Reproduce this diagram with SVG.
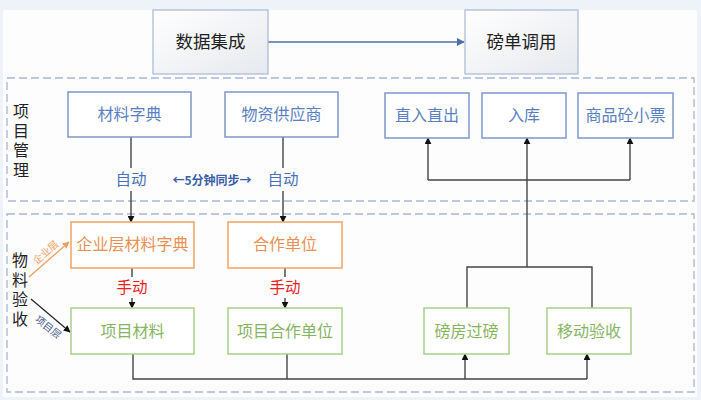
<svg xmlns="http://www.w3.org/2000/svg" width="701" height="400" viewBox="0 0 701 400">
<defs>
<linearGradient id="gtop" x1="0" y1="0" x2="1" y2="1">
<stop offset="0" stop-color="#ffffff"/>
<stop offset="1" stop-color="#e6e9ee"/>
</linearGradient>
<marker id="ah" viewBox="0 0 10 10" refX="9" refY="5" markerWidth="7" markerHeight="7" markerUnits="userSpaceOnUse" orient="auto">
<path d="M0,0 L10,5 L0,10 z" fill="#111"/>
</marker>
<marker id="ahb" viewBox="0 0 10 10" refX="9" refY="5" markerWidth="8" markerHeight="8" markerUnits="userSpaceOnUse" orient="auto">
<path d="M0,0 L10,5 L0,10 z" fill="#4a72a8"/>
</marker>
<marker id="aho" viewBox="0 0 10 10" refX="9" refY="5" markerWidth="7" markerHeight="7" markerUnits="userSpaceOnUse" orient="auto">
<path d="M0,0 L10,5 L0,10 z" fill="#f0a060"/>
</marker>
</defs>
<style>
text{font-family:"Noto Sans CJK SC","Noto Sans",sans-serif;}
.top rect{fill:url(#gtop);stroke:#a9b8d6;stroke-width:1.2;}
.top text{font-size:17.5px;fill:#222;text-anchor:middle;}
.blue rect{fill:#fff;stroke:#7d98cc;stroke-width:1.5;}
.blue text{font-size:16px;fill:#5a7fc0;text-anchor:middle;}
.orange rect{fill:#fff;stroke:#f0a46a;stroke-width:1.5;}
.orange text{font-size:16px;fill:#ea9050;text-anchor:middle;}
.green rect{fill:#fff;stroke:#a8d08a;stroke-width:1.5;}
.green text{font-size:16px;fill:#86b562;text-anchor:middle;}
.dash{fill:none;stroke:#a9b6d8;stroke-width:1.3;stroke-dasharray:8 4;}
.ln{fill:none;stroke:#444;stroke-width:1.4;}
.vlbl{font-size:16px;fill:#222;writing-mode:tb;letter-spacing:3.5px;}
.auto{font-size:15.5px;fill:#4a72b8;text-anchor:middle;}
.man{font-size:15.5px;fill:#ee1c1c;text-anchor:middle;}
</style>
<rect x="0" y="0" width="701" height="400" fill="#eef3fa"/>
<rect x="3" y="10" width="694" height="387" fill="#fdfdfe"/>

<rect class="dash" x="7" y="78" width="687" height="123"/>
<rect class="dash" x="7" y="214" width="687" height="178"/>

<g id="label-xmgl">
<text class="vlbl" x="21" y="103">项目管理</text>
</g>
<g id="label-llys">
<text class="vlbl" x="20" y="252">物料验收</text>
</g>

<g id="connectors">
<line x1="268" y1="42" x2="464" y2="42" stroke="#4a72a8" stroke-width="1.3" marker-end="url(#ahb)"/>
<line class="ln" x1="131" y1="137" x2="131" y2="168"/>
<line class="ln" x1="131" y1="191" x2="131" y2="222" marker-end="url(#ah)"/>
<line class="ln" x1="283" y1="137" x2="283" y2="168"/>
<line class="ln" x1="283" y1="191" x2="283" y2="222" marker-end="url(#ah)"/>
<line class="ln" x1="132" y1="268" x2="132" y2="277"/>
<line class="ln" x1="132" y1="298" x2="132" y2="308" marker-end="url(#ah)"/>
<line class="ln" x1="285" y1="268" x2="285" y2="277"/>
<line class="ln" x1="285" y1="298" x2="285" y2="308" marker-end="url(#ah)"/>
<polyline class="ln" points="133,354 133,379 587,379"/>
<line class="ln" x1="287" y1="354" x2="287" y2="379"/>
<line class="ln" x1="465" y1="379" x2="465" y2="354" marker-end="url(#ah)"/>
<line class="ln" x1="587" y1="379" x2="587" y2="354" marker-end="url(#ah)"/>
<polyline class="ln" points="467,308 467,267 592,267 592,308"/>
<line class="ln" x1="527" y1="267" x2="527" y2="138" marker-end="url(#ah)"/>
<polyline class="ln" points="428,180 630,180"/>
<line class="ln" x1="428" y1="180" x2="428" y2="138" marker-end="url(#ah)"/>
<line class="ln" x1="630" y1="180" x2="630" y2="138" marker-end="url(#ah)"/>
<line x1="29" y1="277" x2="69" y2="242" stroke="#f0a060" stroke-width="1.3" marker-end="url(#aho)"/>
<line x1="31" y1="299" x2="70" y2="332" stroke="#222" stroke-width="1.2" marker-end="url(#ah)"/>
<text x="48" y="255" font-size="10" fill="#f0a060" text-anchor="middle" transform="rotate(-42 48 255)">企业层</text>
<text x="46" y="330" font-size="10" fill="#4a5a8a" text-anchor="middle" transform="rotate(38 46 330)">项目层</text>
<text class="auto" x="131" y="185">自动</text>
<text class="auto" x="283" y="185">自动</text>
<text x="212" y="185" font-size="12" font-weight="bold" fill="#3a5ea8" text-anchor="middle">←5分钟同步→</text>
<text class="man" x="132" y="293">手动</text>
<text class="man" x="285" y="293">手动</text>
</g>

<g id="n-sjjc" class="top"><rect x="153" y="10" width="115" height="64"/><text x="210.5" y="48">数据集成</text></g>
<g id="n-bddy" class="top"><rect x="465" y="10" width="113" height="64"/><text x="521.5" y="48">磅单调用</text></g>

<g id="n-clzd" class="blue"><rect x="68" y="92" width="123" height="45"/><text x="129.5" y="120">材料字典</text></g>
<g id="n-wzgys" class="blue"><rect x="225" y="92" width="113" height="45"/><text x="281.5" y="120">物资供应商</text></g>
<g id="n-zrzc" class="blue"><rect x="385" y="93" width="84" height="45"/><text x="427" y="121">直入直出</text></g>
<g id="n-rk" class="blue"><rect x="482" y="93" width="84" height="45"/><text x="524" y="121">入库</text></g>
<g id="n-spt" class="blue"><rect x="578" y="93" width="95" height="45"/><text x="625.5" y="121">商品砼小票</text></g>

<g id="n-qyc" class="orange"><rect x="71" y="222" width="123" height="46"/><text x="132.5" y="250">企业层材料字典</text></g>
<g id="n-hzdw" class="orange"><rect x="228" y="222" width="114" height="46"/><text x="285" y="250">合作单位</text></g>

<g id="n-xmcl" class="green"><rect x="71" y="308" width="123" height="46"/><text x="132.5" y="337">项目材料</text></g>
<g id="n-xmhz" class="green"><rect x="228" y="308" width="114" height="46"/><text x="285" y="337">项目合作单位</text></g>
<g id="n-bfgb" class="green"><rect x="424" y="308" width="85" height="46"/><text x="466.5" y="337">磅房过磅</text></g>
<g id="n-ydys" class="green"><rect x="547" y="308" width="84" height="46"/><text x="589" y="337">移动验收</text></g>
</svg>
